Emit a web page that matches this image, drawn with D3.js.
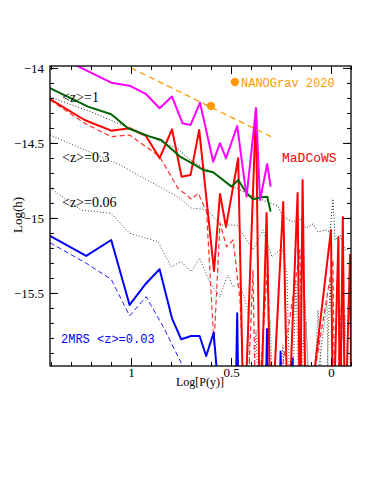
<!DOCTYPE html>
<html>
<head>
<meta charset="utf-8">
<script src="https://cdn.jsdelivr.net/npm/d3@7"></script>
<style>
body { margin: 0; background: #fff; }
svg { display: block; }
</style>
</head>
<body>
<svg id="chart" width="383" height="495"></svg>
<script>
// --- data (x = Log[P(y)], y = Log(h)); -16.5 = drops off the bottom
var magentaX = [1.37, 1.099, 1.007, 0.924, 0.857, 0.795, 0.742, 0.702, 0.655, 0.589, 0.555, 0.525, 0.469, 0.422, 0.375, 0.355, 0.319, 0.302];
var magentaY = [-13.92, -14.098, -14.118, -14.175, -14.269, -14.191, -14.369, -14.38, -14.231, -14.625, -14.502, -14.602, -14.387, -14.858, -14.269, -14.88, -14.64, -14.791];

var greenX = [1.405, 1.215, 1.099, 1.015, 0.915, 0.849, 0.755, 0.689, 0.639, 0.589, 0.497, 0.464, 0.422, 0.389, 0.347, 0.319, 0.302];
var greenY = [-14.135, -14.258, -14.309, -14.402, -14.453, -14.48, -14.591, -14.64, -14.68, -14.695, -14.791, -14.747, -14.835, -14.875, -14.862, -14.858, -14.958];

var madcowsX = [1.405, 1.232, 1.099, 1.007, 0.925, 0.857, 0.795, 0.747, 0.702, 0.659, 0.585, 0.555, 0.525, 0.464, 0.435, 0.375, 0.355, 0.322, 0.30, 0.239, 0.215, 0.167, 0.155, 0.142, 0.125, 0.0, -0.01, -0.037, -0.045, -0.059, -0.07, -0.095, -0.105];
var madcowsY = [-14.207, -14.347, -14.418, -14.402, -14.453, -14.602, -14.409, -14.725, -14.713, -14.413, -15.353, -14.84, -15.06, -14.602, -16.5, -14.269, -16.5, -14.967, -16.5, -14.893, -16.5, -14.833, -16.5, -14.747, -16.5, -15.08, -16.5, -15.127, -16.5, -14.993, -16.5, -15.247, -16.5];

var madcowsDashX = [1.405, 1.232, 1.099, 1.007, 0.857, 0.765, 0.697, 0.664, 0.622, 0.585, 0.555, 0.522, 0.489, 0.455, 0.425, 0.39, 0.375, 0.315, 0.30, 0.155, 0.14, -0.01, -0.02, -0.06, -0.075];
var madcowsDashY = [-14.213, -14.369, -14.458, -14.447, -14.591, -14.802, -14.875, -14.835, -14.96, -15.847, -15.033, -15.193, -15.147, -15.547, -16.5, -15.347, -16.5, -15.28, -16.5, -15.213, -16.5, -15.28, -16.5, -15.347, -16.5];

var dotZ1X = [1.405, 1.2, 0.765, 0.705, 0.59, 0.505, 0.405, 0.305, 0.265, 0.24, 0.19, 0.155, 0.125, 0.09, 0.065, 0.025, 0.005, -0.01, -0.02, -0.045, -0.07, -0.1];
var dotZ1Y = [-14.193, -14.293, -14.54, -14.613, -14.70, -14.78, -14.847, -14.90, -14.92, -14.993, -15.027, -15.007, -15.067, -15.04, -15.093, -15.08, -15.093, -14.873, -15.147, -15.113, -15.213, -15.2];

var dotZ03X = [1.405, 1.055, 0.765, 0.70, 0.615, 0.555, 0.47, 0.39, 0.34, 0.295, 0.245, 0.22, 0.20, 0.175, 0.155, 0.13, 0.095, 0.065, 0.03, 0.005, -0.025, -0.055, -0.085, -0.1];
var dotZ03Y = [-14.447, -14.647, -14.86, -14.933, -14.947, -15.047, -15.047, -15.213, -15.08, -15.26, -15.2, -15.38, -16.5, -15.413, -16.5, -15.547, -16.5, -15.613, -16.5, -15.413, -16.5, -15.547, -16.5, -15.68];

var dotZ006X = [1.405, 1.249, 1.099, 1.007, 0.865, 0.799, 0.749, 0.699, 0.657, 0.607, 0.557, 0.515, 0.49, 0.457, 0.415, 0.395, 0.375, 0.355, 0.305, 0.28, 0.24, 0.22, 0.125, 0.105, 0.02, 0.01, -0.07, -0.09];
var dotZ006Y = [-14.8, -14.947, -14.969, -15.102, -15.158, -15.325, -15.291, -15.358, -15.269, -15.425, -15.525, -15.38, -15.46, -15.435, -15.613, -16.5, -15.747, -16.5, -15.68, -16.5, -15.847, -16.5, -15.693, -16.5, -15.547, -16.5, -15.647, -16.5];

var twomrsX = [1.405, 1.224, 1.099, 1.007, 0.924, 0.857, 0.795, 0.749, 0.699, 0.657, 0.624, 0.587, 0.54, 0.48, 0.469, 0.46, 0.33, 0.32, 0.313, 0.26, 0.252, 0.245, 0.2, 0.192, 0.185];
var twomrsY = [-15.12, -15.253, -15.147, -15.58, -15.435, -15.342, -15.669, -15.809, -15.787, -15.787, -15.92, -15.765, -16.5, -16.5, -15.635, -16.5, -16.5, -15.74, -16.5, -16.5, -15.891, -16.5, -16.5, -15.935, -16.5];

var twomrsDashX = [1.405, 1.224, 1.099, 1.007, 0.924, 0.839, 0.74, 0.705];
var twomrsDashY = [-15.165, -15.302, -15.409, -15.653, -15.525, -15.725, -15.991, -16.08];

var nanogravX = [1.0, 0.30];
var nanogravY = [-14.0, -14.458];
var nanogravPoint = [0.60, -14.253];

var xMajor = [1, 0.5, 0];
var yMajor = [-14, -14.5, -15, -15.5];

// --- layout
var svg = d3.select('#chart');
var box = {left: 50, right: 351, top: 66, bottom: 366};

var x = d3.scaleLinear().domain([1.405, -0.1]).range([box.left, box.right]);
var y = d3.scaleLinear().domain([-13.987, -15.987]).range([box.top, box.bottom]);

var xMinor = d3.range(-1, 15).map(function(i){ return i / 10; });
var yMinor = d3.range(140, 160).map(function(i){ return -i / 10; });

svg.append('defs').append('clipPath').attr('id', 'plotClip')
  .append('rect')
  .attr('x', box.left).attr('y', box.top)
  .attr('width', box.right - box.left).attr('height', box.bottom - box.top);

var plot = svg.append('g').attr('clip-path', 'url(#plotClip)');

var line = d3.line()
  .x(function(d) { return x(d[0]); })
  .y(function(d) { return y(d[1]); });

function drawSeries(xs, ys, color, width, dash) {
  plot.append('path')
    .datum(d3.zip(xs, ys))
    .attr('d', line)
    .attr('fill', 'none')
    .attr('stroke', color)
    .attr('stroke-width', width)
    .attr('stroke-linejoin', 'round')
    .attr('stroke-dasharray', dash || null);
}

// dotted model curves first, coloured data on top
drawSeries(dotZ006X, dotZ006Y, '#444', 1, '1,2');
drawSeries(dotZ03X, dotZ03Y, '#444', 1, '1,2');
drawSeries(dotZ1X, dotZ1Y, '#222', 1, '1,2');
drawSeries(twomrsDashX, twomrsDashY, '#2020ff', 1, '5,3');
drawSeries(madcowsDashX, madcowsDashY, '#ff3030', 1.2, '5,3');
drawSeries(twomrsX, twomrsY, '#0000ff', 2, null);
drawSeries(madcowsX, madcowsY, '#ff0000', 2, null);
drawSeries(greenX, greenY, '#006400', 2, null);
drawSeries(magentaX, magentaY, '#ff00ff', 2, null);
drawSeries(nanogravX, nanogravY, '#ff9900', 1.3, '6,4');

plot.append('circle')
  .attr('cx', x(nanogravPoint[0]))
  .attr('cy', y(nanogravPoint[1]))
  .attr('r', 4.2)
  .attr('fill', '#ff9900');

// --- axes, ticks pointing inwards on all four sides
function tickAxis(axis, tx, ty, values, size, pad) {
  var g = svg.append('g')
    .attr('transform', 'translate(' + tx + ',' + ty + ')')
    .call(axis.tickValues(values).tickSize(size).tickPadding(pad || 0)
      .tickFormat(pad ? d3.format('') : ''));
  g.select('.domain').remove();
  g.selectAll('.tick line').attr('stroke', '#000').attr('stroke-width', 1);
  g.selectAll('.tick text')
    .attr('fill', '#000')
    .style('font-family', '"Liberation Serif", "Times New Roman", serif')
    .style('font-size', '13px');
  return g;
}

tickAxis(d3.axisBottom(x), 0, box.bottom, xMinor, -4);
tickAxis(d3.axisBottom(x), 0, box.bottom, xMajor, -8, 2);
tickAxis(d3.axisTop(x), 0, box.top, xMinor, -4);
tickAxis(d3.axisTop(x), 0, box.top, xMajor, -8);
tickAxis(d3.axisLeft(y), box.left, 0, yMinor, -4);
tickAxis(d3.axisLeft(y), box.left, 0, yMajor, -8, 6);
tickAxis(d3.axisRight(y), box.right, 0, yMinor, -4);
tickAxis(d3.axisRight(y), box.right, 0, yMajor, -8);

svg.append('rect')
  .attr('x', box.left).attr('y', box.top)
  .attr('width', box.right - box.left).attr('height', box.bottom - box.top)
  .attr('fill', 'none')
  .attr('stroke', '#000')
  .attr('stroke-width', 1.3);

// --- axis titles
svg.append('text')
  .attr('x', 200)
  .attr('y', 386)
  .attr('text-anchor', 'middle')
  .style('font-family', '"Liberation Serif", serif')
  .style('font-size', '12px')
  .text('Log[P(y)]');

svg.append('text')
  .attr('transform', 'translate(21.5,215) rotate(-90)')
  .attr('text-anchor', 'middle')
  .style('font-family', '"Liberation Serif", serif')
  .style('font-size', '13px')
  .text('Log(h)');

// --- annotations
var notes = [
  {t: '<z>=1',  px: 62, py: 102, c: '#000', f: '"Liberation Serif", serif', s: 14},
  {t: '<z>=0.3', px: 62, py: 162, c: '#000', f: '"Liberation Serif", serif', s: 14},
  {t: '<z>=0.06', px: 62, py: 207, c: '#000', f: '"Liberation Serif", serif', s: 14},
  {t: '2MRS <z>=0.03', px: 61, py: 343, c: '#0000ff', f: '"Liberation Mono", monospace', s: 12},
  {t: 'MaDCoWS', px: 282, py: 162, c: '#ff0000', f: '"Liberation Mono", monospace', s: 13},
  {t: 'NANOGrav 2020', px: 241, py: 87, c: '#ff9900', f: '"Liberation Mono", monospace', s: 12}
];

svg.selectAll('text.note')
  .data(notes)
  .enter().append('text')
  .attr('class', 'note')
  .attr('x', function(d) { return d.px; })
  .attr('y', function(d) { return d.py; })
  .attr('fill', function(d) { return d.c; })
  .style('font-family', function(d) { return d.f; })
  .style('font-size', function(d) { return d.s + 'px'; })
  .style('white-space', 'pre')
  .text(function(d) { return d.t; });

svg.append('circle')
  .attr('cx', 235).attr('cy', 82)
  .attr('r', 4.2)
  .attr('fill', '#ff9900');
</script>
</body>
</html>
